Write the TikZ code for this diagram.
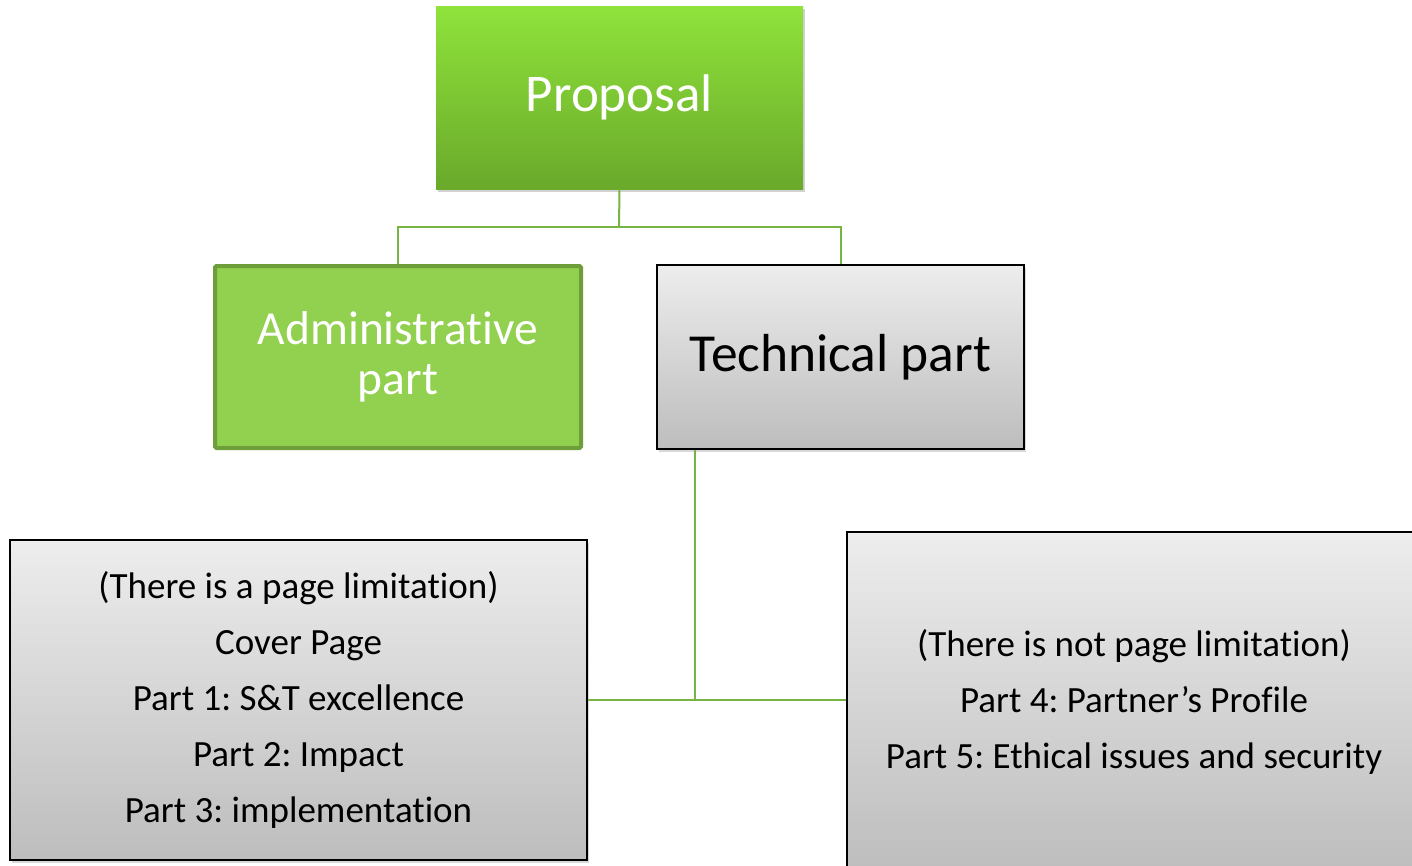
\documentclass[tikz,border=0pt]{standalone}
\usepackage{fontspec}
\setmainfont{Carlito}[Ligatures={NoCommon}]
\usetikzlibrary{shadows}
\frenchspacing
\definecolor{gtop}{HTML}{8FE33B}
\definecolor{gbot}{HTML}{6AA92B}
\definecolor{admfill}{HTML}{92D050}
\definecolor{admline}{HTML}{6E9E3A}
\definecolor{grtop}{HTML}{EDEDED}
\definecolor{grbot}{HTML}{BDBDBD}
\definecolor{conncol}{HTML}{77B443}
\tikzset{
  greenbox/.style={rectangle, top color=gtop, bottom color=gbot, draw=none, text=white,
    drop shadow={shadow xshift=2pt, shadow yshift=-3pt, opacity=0.35}},
  admbox/.style={rectangle, fill=admfill, draw=admline, line width=4pt, rounded corners=1.5pt, text=white},
  greybox/.style={rectangle, top color=grtop, bottom color=grbot, draw=black, line width=1.3pt, text=black,
    drop shadow={shadow xshift=2pt, shadow yshift=-3pt, opacity=0.3}},
  conn/.style={draw=conncol, line width=2pt},
}
\begin{document}
\begin{tikzpicture}[x=1pt,y=-1pt]
\useasboundingbox (0,0) rectangle (1412,865);
\clip (0,0) rectangle (1412,865);
\fill[white] (0,0) rectangle (1412,865);
\node[greenbox, minimum width=367pt, minimum height=183pt, font=\fontsize{53}{60}\selectfont] (prop) at (619.5,97.5) {Proposal};
\node[admbox, minimum width=366pt, minimum height=182pt, align=center, font=\fontsize{47.5}{50}\selectfont] (adm) at (398,357) {Administrative\\part};
\node[greybox, minimum width=367pt, minimum height=184pt, font=\fontsize{53.5}{60}\selectfont] (tech) at (840.5,357) {Technical part};
\node[greybox, minimum width=577pt, minimum height=320pt, align=center, font=\fontsize{37}{56}\selectfont] (lb) at (298.5,700)
  {(There is a page limitation)\\Cover Page\\Part 1: S\&T excellence\\Part 2: Impact\\Part 3: implementation};
\node[greybox, minimum width=574pt, minimum height=340pt, align=center, font=\fontsize{37}{56}\selectfont] (rb) at (1134,702)
  {(There is not page limitation)\\Part 4: Partner’s Profile\\Part 5: Ethical issues and security};
\coordinate (j1) at (619,227);
\coordinate (j2) at (695,700);
\draw[conn] (prop.south) -- (j1);
\draw[conn] (adm.north) |- (j1) -| (tech.north);
\draw[conn] (tech.south -| j2) -- (j2);
\draw[conn] (lb.east |- j2) -- (rb.west |- j2);
\end{tikzpicture}
\end{document}
